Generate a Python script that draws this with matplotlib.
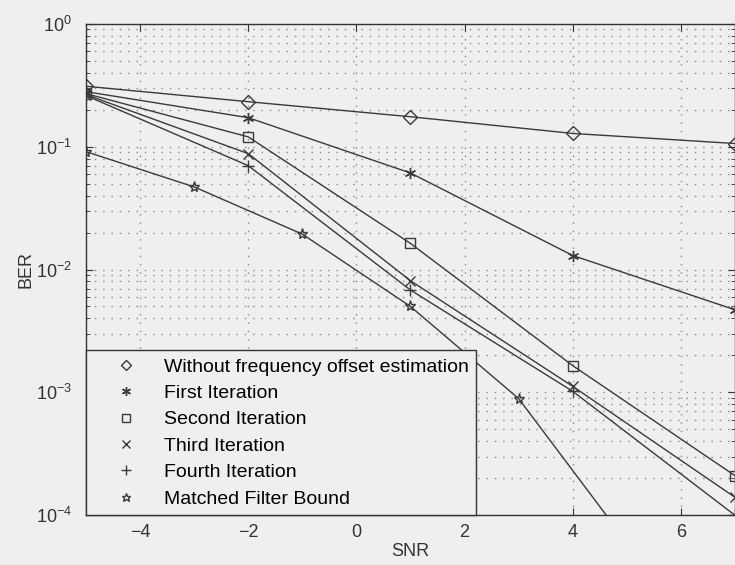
import numpy as np
import matplotlib
matplotlib.use('Agg')
import matplotlib.pyplot as plt
from matplotlib.ticker import LogLocator, NullFormatter

plt.rcParams['font.family'] = ['Liberation Sans', 'DejaVu Sans']
plt.rcParams['mathtext.fontset'] = 'custom'
plt.rcParams['mathtext.rm'] = 'Liberation Sans'

# SNR points
snr = np.array([-5, -2, 1, 4, 7])
snr_mfb = np.array([-5, -3, -1, 1, 3, 5])

# BER values
ber_none = np.array([0.31, 0.232, 0.175, 0.128, 0.106])
ber_it1 = np.array([0.28, 0.172, 0.061, 0.013, 0.0047])
ber_it2 = np.array([0.27, 0.12, 0.0163, 0.00165, 0.00021])
ber_it3 = np.array([0.265, 0.0877, 0.0081, 0.00112, 0.00014])
ber_it4 = np.array([0.26, 0.070, 0.0068, 0.00102, 0.0001])
ber_mfb = np.array([0.091, 0.047, 0.0194, 0.005, 0.00089, 0.00006])

labels = ['Without frequency offset estimation', 'First Iteration',
          'Second Iteration', 'Third Iteration', 'Fourth Iteration',
          'Matched Filter Bound']

bg = '#efefef'
lc = '#3a3a3a'
gc = '#8a8a8a'

fig = plt.figure(figsize=(7.35, 5.65), dpi=100, facecolor=bg)
ax = fig.add_axes([0.117, 0.088, 0.883, 0.870], facecolor=bg)

kw = dict(color=lc, lw=1.0, mfc='none', mec=lc, mew=1.0)
ax.semilogy(snr, ber_none, marker='D', ms=7, label=labels[0], **kw)
ax.semilogy(snr, ber_it1, marker=(6, 2, 0), ms=8, label=labels[1], **kw)
ax.semilogy(snr, ber_it2, marker='s', ms=7, label=labels[2], **kw)
ax.semilogy(snr, ber_it3, marker='x', ms=7, label=labels[3], **kw)
ax.semilogy(snr, ber_it4, marker='+', ms=9, label=labels[4], **kw)
ax.semilogy(snr_mfb, ber_mfb, marker='*', ms=8, label=labels[5], **kw)

ax.set_xlim(-5, 7)
ax.set_ylim(1e-4, 1)
ax.set_xticks([-4, -2, 0, 2, 4, 6])
ax.set_xticklabels(['\u22124', '\u22122', '0', '2', '4', '6'])
ax.yaxis.set_minor_locator(LogLocator(base=10, subs=np.arange(2, 10)))
ax.yaxis.set_minor_formatter(NullFormatter())

dots = (0, (1, 5))
ax.grid(True, which='major', ls=dots, lw=1.0, color=gc)
ax.grid(True, which='minor', axis='y', ls=dots, lw=1.0, color=gc)
ax.tick_params(which='both', direction='in', top=True, right=True,
               labelsize=13, colors='#333333')
ax.tick_params(axis='x', pad=6)
ax.tick_params(axis='y', pad=10)
ax.tick_params(which='major', length=5)
ax.tick_params(which='minor', length=3)
for s in ax.spines.values():
    s.set_color('#333333')
    s.set_linewidth(1.0)

ax.set_xlabel('SNR', fontsize=13, color='#333333', labelpad=2)
ax.set_ylabel('BER', fontsize=13, color='#333333', labelpad=1)

leg = ax.legend(loc='lower left', fontsize=14, frameon=True, fancybox=False,
                borderaxespad=0, handlelength=3.3, handletextpad=0.3,
                labelspacing=0.45, borderpad=0.4, framealpha=1,
                markerscale=0.8)
leg.get_frame().set_edgecolor('#333333')
leg.get_frame().set_facecolor(bg)
leg.get_frame().set_linewidth(1.0)
for line in leg.get_lines():
    line.set_linestyle('none')

fig.savefig('out.png', dpi=100, facecolor=bg)
